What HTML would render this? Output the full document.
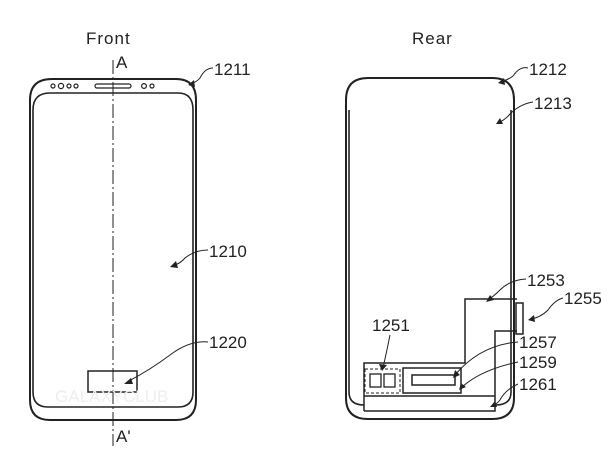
<!DOCTYPE html>
<html><head><style>
html,body{margin:0;padding:0;background:#fff;}
svg{display:block}
text{font-family:"Liberation Sans",sans-serif;font-size:17px;fill:#222}
</style></head><body>
<svg width="616" height="460" viewBox="0 0 616 460" xmlns="http://www.w3.org/2000/svg">
<g fill="none" stroke="#222" stroke-width="2">
<path d="M30,100 Q30,79 52,79 L176,79 Q196,79 196,100 L196,400 Q196,420 176,420 L50,420 Q30,420 30,400 Z"/>
<path d="M33,110 Q33,93 50,93 L178,93 Q193,93 193,110 L193,392 Q193,407 178,407 L48,407 Q33,407 33,392 Z" stroke-width="1.6"/>
<rect x="88" y="371" width="49" height="21" stroke-width="1.5"/>
<path d="M346,100 Q346,78 368,78 L492,78 Q514,78 514,100 L514,398 Q514,419 492,419 L368,419 Q346,419 346,398 Z"/>
<path d="M349,110 L349,392 Q349,405 364,405 M496,405 Q511,405 511,392 L511,110" stroke-width="1.6"/>
<path d="M364,411 L364,363 L465,363 L465,299 L517,299 M517,331 L495,331 L495,411 L364,411" stroke-width="1.5"/>
<line x1="364" y1="396" x2="495" y2="396" stroke-width="1.5"/>
<rect x="516" y="303" width="7" height="31" stroke-width="1.5"/>
<rect x="403" y="368" width="58" height="25" stroke-width="1.5"/>
<rect x="412" y="375" width="43" height="10" stroke-width="1.5"/>
<rect x="365" y="369" width="35" height="24" stroke-width="1" stroke-dasharray="3,2"/>
<rect x="370" y="374" width="11" height="13" stroke-width="1.3"/>
<rect x="384" y="374" width="11" height="13" stroke-width="1.3"/>
</g>
<g fill="none" stroke="#222" stroke-width="1.2">
<circle cx="53" cy="86" r="2"/><circle cx="61" cy="86" r="2.6"/><circle cx="69" cy="86" r="2"/><circle cx="76" cy="86" r="2"/>
<rect x="95" y="84" width="36" height="4" rx="2"/>
<circle cx="144" cy="86" r="2.4"/><circle cx="152" cy="86" r="2"/>
</g>
<line x1="113" y1="60" x2="113" y2="446" stroke="#222" stroke-width="1" stroke-dasharray="14,3,2,3"/>
<g fill="none" stroke="#222" stroke-width="1">
<path d="M213,68 Q205,68 200,78 Q197,82 190,84"/>
<path d="M528,68 Q520,66 513,76 Q508,80 500,82"/>
<path d="M533,102 Q520,104 510,114 Q505,120 498,123"/>
<path d="M208,250 Q195,250 185,258 Q180,264 172,266"/>
<path d="M208,342 Q190,340 170,355 Q150,370 127,382"/>
<path d="M526,279 Q510,280 500,290 Q494,296 488,300"/>
<path d="M563,298 Q555,300 548,310 Q540,318 530,319"/>
<path d="M390,335 Q387,350 383,368"/>
<path d="M518,342 Q480,345 455,375"/>
<path d="M518,362 Q480,370 461,388"/>
<path d="M518,384 Q505,390 500,400 Q497,404 492,406"/>
</g>
<g fill="#222">
<polygon points="188,85 194,80 195,87"/>
<polygon points="498,83 504,78 505,85"/>
<polygon points="496,124 500,118 503,124"/>
<polygon points="170,267 176,261 178,268"/>
<polygon points="124,384 131,378 133,384"/>
<polygon points="486,302 490,295 494,300"/>
<polygon points="528,320 534,315 535,322"/>
<polygon points="382,371 379,364 387,365"/>
<polygon points="453,378 455,370 460,375"/>
<polygon points="459,390 461,383 466,387"/>
<polygon points="490,407 495,401 497,407"/>
</g>
<text x="86" y="44" letter-spacing="1">Front</text>
<text x="412" y="44" letter-spacing="1">Rear</text>
<text x="116" y="68">A</text>
<text x="116" y="442">A'</text>
<text x="214" y="75">1211</text>
<text x="529" y="75">1212</text>
<text x="534" y="109">1213</text>
<text x="209" y="257">1210</text>
<text x="209" y="348">1220</text>
<text x="527" y="286">1253</text>
<text x="564" y="304">1255</text>
<text x="372" y="331">1251</text>
<text x="519" y="348">1257</text>
<text x="519" y="368">1259</text>
<text x="519" y="390">1261</text>
<text x="55" y="402" style="font-size:17px;fill:#eee">GALAXYCLUB</text>
</svg>
</body></html>
